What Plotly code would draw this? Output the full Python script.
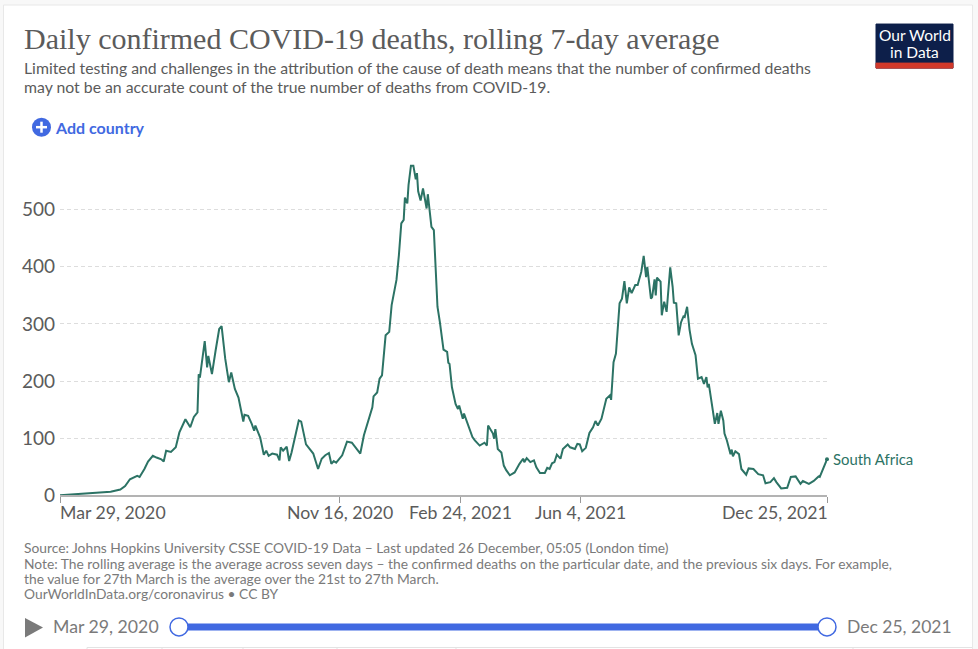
import pandas as pd
import plotly.graph_objects as go

# South Africa: days since Mar 29 2020 and deaths
start = pd.Timestamp("2020-03-29")
days = [0, 8, 17, 25, 33, 42, 50, 54, 58, 61, 64, 66, 68, 70, 73, 77, 80, 84, 86, 88, 92, 96, 99, 102, 104, 108,
        111, 114, 115, 116, 118, 120, 122, 123, 126, 127, 129, 132, 134, 137, 140, 142, 145, 148, 150, 152, 153,
        156, 159, 161, 162, 166, 169, 171, 173, 176, 180, 182, 183, 185, 188, 190, 192, 198, 200, 204, 210, 214,
        217, 220, 223, 225, 227, 229, 234, 236, 238, 242, 246, 249, 252, 256, 259, 260, 263, 265, 267, 270, 273,
        275, 279, 281, 283, 285, 286, 288, 289, 291, 293, 295, 296, 297, 299, 301, 304, 305, 306, 308, 310, 311,
        313, 315, 318, 321, 322, 323, 325, 328, 330, 331, 334, 335, 339, 342, 344, 348, 352, 354, 355, 359, 360,
        361, 363, 366, 368, 370, 373, 377, 381, 384, 385, 387, 390, 393, 395, 398, 402, 404, 406, 408, 410, 412,
        415, 417, 421, 423, 427, 429, 431, 433, 436, 439, 442, 444, 446, 449, 453, 456, 457, 459, 461, 464, 466,
        468, 470, 472, 474, 477, 479, 482, 484, 486, 487, 490, 491, 493, 494, 495, 498, 499, 501, 503, 504, 506,
        508, 509, 511, 513, 515, 517, 518, 520, 522, 524, 527, 529, 532, 534, 536, 537, 538, 541, 543, 545, 546,
        548, 550, 551, 553, 556, 557, 558, 560, 563, 565, 569, 571, 575, 579, 583, 585, 589, 592, 594, 598, 603,
        606, 610, 611, 614, 616, 621, 625, 629, 630, 632, 636]
deaths = [0, 1, 3, 4, 5, 6, 10, 16, 28, 31, 34, 32, 38, 46, 59, 69, 66, 63, 59, 78, 76, 84, 110, 125, 133, 119,
          137, 145, 212, 206, 244, 270, 224, 244, 212, 227, 253, 291, 296, 239, 198, 215, 186, 171, 151, 129, 141,
          139, 125, 113, 122, 101, 71, 78, 69, 73, 71, 61, 84, 78, 85, 60, 75, 131, 129, 89, 73, 46,
          64, 70, 74, 55, 60, 57, 70, 84, 94, 92, 81, 73, 105, 131, 154, 173, 180, 204, 210, 280, 286,
          333, 377, 420, 476, 482, 521, 511, 543, 577, 577, 553, 564, 532, 516, 537, 502, 527, 508, 470, 464, 412,
          330, 303, 255, 251, 232, 230, 189, 160, 151, 157, 134, 143, 119, 102, 96, 87, 92, 87, 122, 108, 99,
          116, 81, 75, 52, 44, 35, 40, 55, 64, 58, 65, 58, 61, 49, 39, 39, 48, 46, 56, 58, 71,
          64, 81, 89, 84, 81, 90, 89, 77, 83, 109, 119, 130, 122, 134, 169, 175, 167, 233, 248, 336, 344,
          375, 336, 364, 354, 368, 368, 391, 419, 382, 400, 344, 347, 378, 350, 381, 374, 315, 339, 321, 347, 399,
          365, 337, 336, 280, 303, 313, 312, 330, 290, 265, 245, 204, 207, 195, 207, 189, 195, 154, 125, 144, 125,
          148, 131, 108, 96, 72, 80, 68, 77, 72, 46, 36, 47, 46, 37, 35, 21, 23, 30, 23, 12, 13,
          32, 33, 30, 20, 25, 20, 25, 33, 32, 43, 63]
dates = [start + pd.Timedelta(days=d) for d in days]

y_ticks = [0, 100, 200, 300, 400, 500]
x_ticks = ["2020-03-29", "2020-11-16", "2021-02-24", "2021-06-04", "2021-12-25"]
x_labels = ["Mar 29, 2020", "Nov 16, 2020", "Feb 24, 2021", "Jun 4, 2021", "Dec 25, 2021"]
x_anchors = ["left", "center", "center", "center", "right"]
x_shifts = [-2, 0, 0, 0, 3]
tab_edges = [87, 162, 243, 337, 456, 853]

W, H = 978, 649
GREEN = "#2c7365"
BLUE = "#4169e1"
GREY = "#5b5b5b"
TEXT = "#7a7a7a"
FONT = "Lato"


def px(x):
    return x / W


def py(y):
    return 1 - y / H


def label(x, y, text, size, color=GREY, anchor="left", family=FONT):
    return dict(xref="paper", yref="paper", x=px(x), y=py(y), text=text, showarrow=False,
                xanchor=anchor, yanchor="middle", align=anchor,
                font=dict(family=family, size=size, color=color))


def box(x0, y0, x1, y1, fill, line=None):
    return dict(type="rect", xref="paper", yref="paper", x0=px(x0), x1=px(x1), y0=py(y0), y1=py(y1),
                fillcolor=fill, line=dict(color=line or fill, width=1), layer="below")


def dot(x, y, r, fill, line, width=1.5):
    return dict(type="circle", xref="paper", yref="paper", x0=px(x - r), x1=px(x + r), y0=py(y - r), y1=py(y + r),
                fillcolor=fill, line=dict(color=line, width=width), layer="above")


def seg(x0, y0, x1, y1, color, width):
    return dict(type="line", xref="paper", yref="paper", x0=px(x0), x1=px(x1), y0=py(y0), y1=py(y1),
                line=dict(color=color, width=width), layer="above")


fig = go.Figure()
fig.add_trace(go.Scatter(x=dates, y=deaths, mode="lines", line=dict(color=GREEN, width=2),
                         hoverinfo="skip", showlegend=False))
# small dot at the end of the line
fig.add_trace(go.Scatter(x=dates[-1:], y=deaths[-1:], mode="markers", marker=dict(color=GREEN, size=4),
                         hoverinfo="skip", showlegend=False, cliponaxis=False))

shapes = [
    box(3.5, 5, 972.5, 649, "#ffffff", "#e8e8e8"),
    box(876, 24, 953, 68, "#0d1f4a"),
    box(876, 63, 953, 68, "#d0392b"),
    dot(41.5, 127, 9.5, BLUE, BLUE, 0),
    seg(36, 127, 47, 127, "#ffffff", 2.5),
    seg(41.5, 121.5, 41.5, 132.5, "#ffffff", 2.5),
    dict(type="path", xref="paper", yref="paper",
         path=f"M {px(25)} {py(617)} L {px(43)} {py(626.5)} L {px(25)} {py(636.5)} Z",
         fillcolor="#7a7a7a", line=dict(width=0)),
    seg(179, 626, 827, 626, BLUE, 7),
    dot(179, 626, 9, "#ffffff", BLUE),
    dot(827, 626, 9, "#ffffff", BLUE),
    seg(87, 646.5, 972, 646.5, "#e3e3e3", 1),
]
shapes += [seg(e, 646.5, e, 649, "#e3e3e3", 1) for e in tab_edges]

annotations = [
    label(22, 38, "Daily confirmed COVID-19 deaths, rolling 7-day average", 30, GREY, family="Liberation Serif"),
    label(22, 67, "Limited testing and challenges in the attribution of the cause of death means that the number of confirmed deaths", 15.8),
    label(22, 86, "may not be an accurate count of the true number of deaths from COVID-19.", 15.8),
    label(914.5, 35, "Our World", 15.5, "#ffffff", "center"),
    label(914.5, 52, "in Data", 15.5, "#ffffff", "center"),
    label(53, 127, "<b>Add country</b>", 16, BLUE),
    label(831, 458.5, "South Africa", 14.9, GREEN),
    label(22, 547, "Source: Johns Hopkins University CSSE COVID-19 Data – Last updated 26 December, 05:05 (London time)", 13.8, TEXT),
    label(22, 562.5, "Note: The rolling average is the average across seven days – the confirmed deaths on the particular date, and the previous six days. For example,", 13.8, TEXT),
    label(22, 578, "the value for 27th March is the average over the 21st to 27th March.", 13.8, TEXT),
    label(22, 593, "OurWorldInData.org/coronavirus • CC BY", 13.8, TEXT),
    label(51, 626, "Mar 29, 2020", 17.7, TEXT),
    label(845, 626, "Dec 25, 2021", 17.5, TEXT),
]
for t, txt, anc, sh in zip(x_ticks, x_labels, x_anchors, x_shifts):
    annotations.append(dict(xref="x", yref="paper", x=t, y=py(512), text=txt, showarrow=False, xanchor=anc,
                            xshift=sh, yanchor="middle", font=dict(family=FONT, size=17.7, color=GREY)))

fig.update_layout(
    width=W, height=H + 12, autosize=False,
    margin=dict(l=0, r=0, t=0, b=0, pad=0),
    paper_bgcolor="#f8f8f8", plot_bgcolor="rgba(0,0,0,0)",
    showlegend=False,
    shapes=shapes,
    annotations=annotations,
    xaxis=dict(
        domain=[px(60), px(827)], range=[start, pd.Timestamp("2021-12-25")], type="date",
        tickvals=x_ticks, ticktext=[""] * len(x_ticks), ticks="outside", ticklen=6, tickcolor="#999999", tickwidth=1,
        showgrid=False, zeroline=False, showline=True, linecolor="#b3b3b3", linewidth=2,
    ),
    yaxis=dict(
        domain=[py(494.5), py(150)], range=[0, 604], tickvals=y_ticks, ticks="", ticklabelstandoff=4,
        tickfont=dict(family=FONT, size=19, color=GREY),
        showgrid=True, gridcolor="#dddddd", griddash="4px,3px", gridwidth=1, zeroline=False, showline=False,
    ),
)

fig.write_html("out.html", config={"displayModeBar": False},
               post_script="document.body.style.margin='0';")
